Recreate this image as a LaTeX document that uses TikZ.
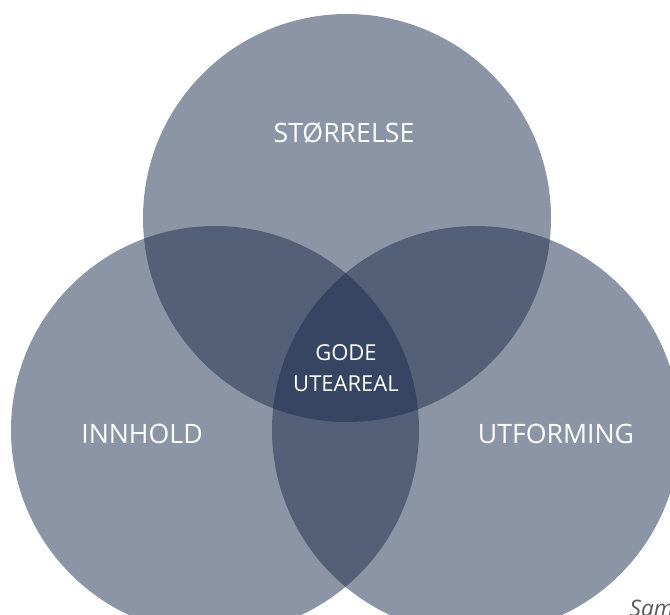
\documentclass[tikz,border=0pt]{standalone}
\usepackage{fontspec}
\setmainfont{Open Sans}
\usepackage{tikz}
\usetikzlibrary{positioning}
\definecolor{vennblue}{RGB}{26,44,76}
\definecolor{notegray}{RGB}{90,90,90}

\begin{document}
\begin{tikzpicture}[x=0.75pt, y=-0.75pt,
    set/.style={circle, fill=vennblue, fill opacity=0.5, inner sep=0pt, outer sep=0pt, minimum size=306pt},
    lbl/.style={text=white, font=\fontsize{20}{24}\selectfont},
    core/.style={text=white, align=center, font=\fontsize{16.5}{23}\selectfont}]
            \useasboundingbox (0,0) rectangle (670,614);
            \clip (0,0) rectangle (670,614);
            % the three sets
            \foreach \n/\x/\y in {top/347/218, left/215/430, right/476/430} {
                \node[set] (\n) at (\x,\y) {};
            }
            \node[lbl] (size) at (344,133) {STØRRELSE};
            \node[lbl] (content) at (142,434) {INNHOLD};
            \node[lbl] (design) at (556,434) {UTFORMING};
            \node[core] (good) at (346,368) {GODE\\UTEAREAL};
            \node[anchor=base west, text=notegray, font=\fontsize{17}{20}\selectfont\itshape] (note) at (625,616) {Samm};
        \end{tikzpicture}
\end{document}
